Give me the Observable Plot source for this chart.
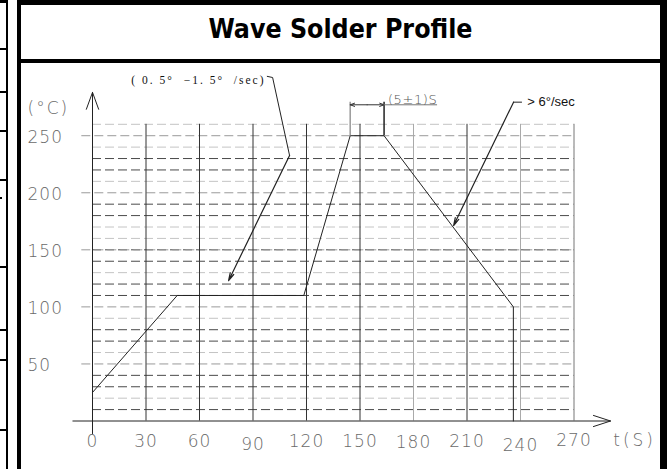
<!DOCTYPE html>
<html>
<head>
<meta charset="utf-8">
<script src="https://cdn.jsdelivr.net/npm/d3@7"></script>
<script src="https://cdn.jsdelivr.net/npm/@observablehq/plot@0.6"></script>
<style>
html, body { margin: 0; padding: 0; background: #fff; }
#page { position: relative; width: 667px; height: 469px; overflow: hidden; background: #fff; }
#page svg { position: absolute; left: 0; top: 0; overflow: visible; }
.b { position: absolute; background: #000; }
#title { position: absolute; left: 21px; width: 639px; top: 15px; line-height: 28px; text-align: center;
  font-family: "DejaVu Sans Condensed", "Liberation Sans", Arial, sans-serif; font-weight: bold; font-size: 26.5px; color: #000; }
</style>
</head>
<body>
<div id="page">
  <!-- fragment of neighbouring table on the left -->
  <div class="b" style="left:6px;top:0;width:2px;height:469px"></div>
  <div class="b" style="left:0;top:0;width:8px;height:3px"></div>
  <div class="b" style="left:0;top:48px;width:8px;height:2px"></div>
  <div class="b" style="left:0;top:91px;width:8px;height:2px"></div>
  <div class="b" style="left:0;top:130px;width:8px;height:2px"></div>
  <div class="b" style="left:0;top:179px;width:8px;height:2px"></div>
  <div class="b" style="left:0;top:197px;width:2px;height:2px"></div>
  <div class="b" style="left:0;top:266px;width:8px;height:2px"></div>
  <div class="b" style="left:0;top:329px;width:8px;height:2px"></div>
  <div class="b" style="left:0;top:359px;width:8px;height:2px"></div>
  <div class="b" style="left:0;top:429px;width:8px;height:2px"></div>
  <!-- main frame -->
  <div class="b" style="left:17px;top:0;width:650px;height:5px"></div>
  <div class="b" style="left:17px;top:0;width:4px;height:469px"></div>
  <div class="b" style="left:660px;top:0;width:7px;height:469px"></div>
  <div class="b" style="left:17px;top:59px;width:650px;height:4px"></div>
  <div id="title">Wave Solder Profile</div>
</div>
<script>
// ---- data ----
const xTicks = [0, 30, 60, 90, 120, 150, 180, 210, 240, 270];
const yTicks = [50, 100, 150, 200, 250];
const gridTimes = [30, 60, 90, 120, 150, 180, 210, 240, 270];
const gridTemps = [10, 20, 30, 40, 50, 60, 70, 80, 90, 100, 110, 120, 130, 140, 150, 160, 170, 180, 190, 200, 210, 220, 230, 240, 250, 260];
const profileTime = [0, 47.5, 118.5, 144.5, 163.5, 236, 236];
const profileTemp = [25, 110, 110, 250, 250, 100, 0];
const rampNote = "(\u00a00.\u00a05°\u00a0\u00a0−1.\u00a05°\u00a0\u00a0/sec)";
const coolNote = ">\u00a06°/sec";
const dwellNote = "(5±1)S";
const yUnit = "(°C)";
const xUnit = "t(S)";
// annotation anchor points (data units: seconds, °C)
const rampLeaderTime = [98, 101, 110.5];
const rampLeaderTemp = [302, 301, 232.7];
const rampArrowTip = {t: 76.3, T: 123};
const coolLeaderTime = [240.6, 236.1];
const coolLeaderTemp = [279.4, 279.4];
const coolArrowTip = {t: 202.5, T: 171.3};
const dwellTop = 279.4;
const dwellLine = 277.1;
const dwellUnderlineEnd = 193.5;

// ---- styles ----
const cadFont = "'DejaVu Sans', sans-serif";
const darkTemps = new Set([10, 30, 40, 70, 80, 110, 120, 140, 150, 180, 190, 220, 230]);
const lightTimes = new Set([180, 240]);
const xLabelNudge = {90: 3, 180: 1.5, 240: 4, 270: -1};
const spacing = {[rampNote]: "2px", [yUnit]: "2px", [xUnit]: "3px", [dwellNote]: "0.6px"};

const profile = profileTime.map((t, i) => ({t, T: profileTemp[i]}));
const rampLeader = rampLeaderTime.map((t, i) => ({t, T: rampLeaderTemp[i]}));
const coolLeader = coolLeaderTime.map((t, i) => ({t, T: coolLeaderTemp[i]}));
const tickSet = new Set(yTicks);
const dash = "9,4";
const nudges = [...new Set(xTicks.map(v => xLabelNudge[v] || 0))];
const cad = {fontSize: 17, fill: "#6a6a6a", fontFamily: cadFont, fontWeight: 200};

const chart = Plot.plot({
  width: 667,
  height: 469,
  margin: 0,
  style: {background: "transparent", overflow: "visible"},
  x: {domain: [0, 270], range: [92, 573.5], axis: null},
  y: {domain: [0, 260], range: [420.5, 123.8], axis: null},
  marks: [
    // horizontal dashed grid
    Plot.ruleY(gridTemps.filter(v => !darkTemps.has(v) && !tickSet.has(v)), {x1: 0, x2: 270, stroke: "#c4c4c4", strokeDasharray: dash}),
    Plot.ruleY(gridTemps.filter(v => darkTemps.has(v)), {x1: 0, x2: 270, stroke: "#4a4a4a", strokeDasharray: dash}),
    Plot.ruleY(yTicks, {x1: -6, x2: 270, stroke: "#9a9a9a", strokeDasharray: dash}),
    // vertical grid
    Plot.ruleX(gridTimes.filter(v => !lightTimes.has(v) && v !== 270), {y1: 0, y2: 260, stroke: "#333"}),
    Plot.ruleX(gridTimes.filter(v => lightTimes.has(v)), {y1: 0, y2: 260, stroke: "#aaa"}),
    Plot.ruleX(gridTimes.filter(v => v === 270), {y1: 0, y2: 260, stroke: "#777"}),
    // axes with open arrowheads
    Plot.arrow([0], {x1: 0, y1: -11, x2: 0, y2: 288, stroke: "#222", strokeWidth: 1, headLength: 27, headAngle: 40}),
    Plot.arrow([0], {x1: -11, y1: 0, x2: 290.5, y2: 0, stroke: "#222", strokeWidth: 1, headLength: 27, headAngle: 36}),
    // profile
    Plot.line(profile, {x: "t", y: "T", stroke: "#222", strokeWidth: 1}),
    // dwell bracket
    Plot.ruleX([profileTime[3]], {y1: profileTemp[3], y2: dwellTop, stroke: "#999", strokeWidth: 1.5}),
    Plot.ruleX([profileTime[4]], {y1: profileTemp[4], y2: dwellTop, stroke: "#222", strokeWidth: 1.5}),
    Plot.arrow([0], {x1: (profileTime[3] + profileTime[4]) / 2, y1: dwellLine, x2: profileTime[4], y2: dwellLine, stroke: "#333", strokeWidth: 1, headLength: 7, headAngle: 40}),
    Plot.arrow([0], {x1: (profileTime[3] + profileTime[4]) / 2, y1: dwellLine, x2: profileTime[3], y2: dwellLine, stroke: "#333", strokeWidth: 1, headLength: 7, headAngle: 40}),
    Plot.ruleY([dwellLine], {x1: profileTime[4], x2: dwellUnderlineEnd, stroke: "#777", strokeWidth: 1}),
    Plot.text([dwellNote], {x: (profileTime[4] + dwellUnderlineEnd) / 2 + 1, y: 281.8, fontSize: 13, fill: "#555", fontFamily: cadFont, fontWeight: 200}),
    // ramp leader
    Plot.line(rampLeader, {x: "t", y: "T", stroke: "#222", strokeWidth: 1}),
    Plot.arrow([0], {x1: rampLeaderTime[2], y1: rampLeaderTemp[2], x2: rampArrowTip.t, y2: rampArrowTip.T, stroke: "#222", strokeWidth: 1.2, headLength: 10, headAngle: 28}),
    Plot.text([rampNote], {x: 97, y: 298.8, textAnchor: "end", fontSize: 11.5, fontFamily: "'Liberation Serif', 'Times New Roman', serif", fill: "#111"}),
    // cooling leader
    Plot.line(coolLeader, {x: "t", y: "T", stroke: "#222", strokeWidth: 1}),
    Plot.arrow([0], {x1: coolLeaderTime[1], y1: coolLeaderTemp[1], x2: coolArrowTip.t, y2: coolArrowTip.T, stroke: "#222", strokeWidth: 1.2, headLength: 10, headAngle: 28}),
    Plot.text([coolNote], {x: 243.8, y: 279.4, textAnchor: "start", fontSize: 13, fontFamily: "'Liberation Sans', Arial, sans-serif", fill: "#111"}),
    // y labels
    Plot.text(yTicks, {y: d => d, text: d => String(d), frameAnchor: "left", dx: 27, dy: 2, textAnchor: "start", ...cad}),
    Plot.text([yUnit], {y: 273.5, frameAnchor: "left", dx: 27, textAnchor: "start", ...cad}),
    // x labels
    ...nudges.map(n => Plot.text(xTicks.filter(v => (xLabelNudge[v] || 0) === n), {x: d => d, text: d => String(d), frameAnchor: "bottom", dy: -23 + n, ...cad})),
    Plot.text([xUnit], {x: 304, frameAnchor: "bottom", dy: -24, ...cad})
  ]
});
// letter spacing for CAD-style and note texts
chart.querySelectorAll("text").forEach(el => {
  const s = spacing[el.textContent];
  el.style.letterSpacing = s || (/^\d+$/.test(el.textContent) ? "1px" : "");
});
document.getElementById("page").insertBefore(chart, document.getElementById("title"));
</script>
</body>
</html>
